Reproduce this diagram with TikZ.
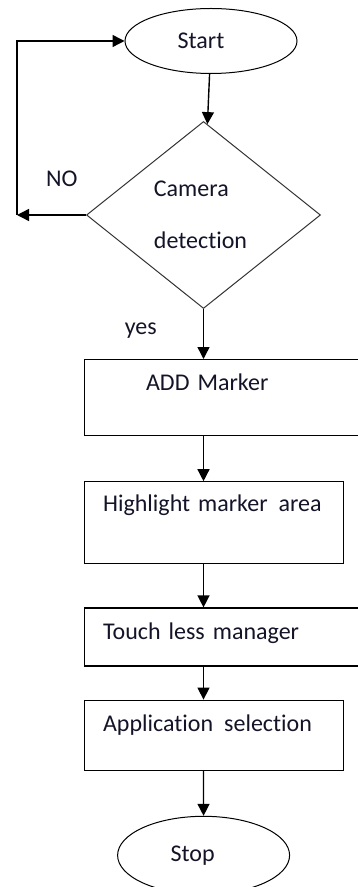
\documentclass[tikz,border=0pt]{standalone}
\usepackage{fontspec}
\setmainfont{Carlito}[Ligatures=CommonOff]
\usepackage{tikz}
\usetikzlibrary{arrows.meta, positioning, shapes.geometric}
\definecolor{outline}{HTML}{000000}
\definecolor{labeltext}{HTML}{141428}
\tikzset{
    termnode/.style={
        ellipse, draw=outline, line width=0.5pt,
        minimum width=86pt, minimum height=#1,
        inner sep=0pt, text=labeltext
    },
    termnode/.default=32.5pt,
    decision/.style={
        diamond, draw=outline!80, line width=0.5pt,
        minimum width=117pt, minimum height=93.5pt,
        align=left, inner sep=0pt, text=labeltext
    },
    procbox/.style={
        rectangle, draw=outline, line width=0.6pt,
        align=left, inner xsep=9.5pt,
        text height=8pt, text depth=#1, text=labeltext
    },
    procbox/.default=0pt,
    widebox/.style={minimum width=142pt, text width=123pt},
    narrowbox/.style={minimum width=129.5pt, text width=110.5pt},
    flowarrow/.style={
        -{Triangle[length=6pt, width=6pt]}, line width=0.7pt, draw=outline
    },
    flowlabel/.style={
        inner sep=0pt, text=labeltext
    },
}

\begin{document}
\begin{tikzpicture}[x=0.5pt, y=-0.5pt, font=\fontsize{12}{14.4}\selectfont]

    \useasboundingbox (0,0) rectangle (358,887);

    % Start and decision
    \node[termnode] (start) at (211,41) {Start\hspace*{10pt}};
    \node[decision, below=23.5pt of start, xshift=-3.75pt] (dec) {Camera\\[11.5pt]detection\hspace*{3pt}};
    \coordinate[left=34.5pt of dec.west] (nocorner);

    % Process boxes
    \node[procbox=15.3pt, widebox, minimum height=38pt, below=25pt of dec.south, anchor=north west, xshift=-60pt] (add) {\hspace*{21.5pt}ADD Marker};
    \node[procbox=19.3pt, narrowbox, minimum height=41pt, below=22.5pt of add.south west, anchor=north west] (hl) {Highlight marker\hspace{1.5pt} area};
    \node[procbox=5.6pt, widebox, minimum height=29pt, below=21.5pt of hl.south west, anchor=north west] (touch) {Touch less manager};
    \node[procbox=11.3pt, narrowbox, minimum height=35pt, below=16.5pt of touch.south west, anchor=north west] (app) {Application\hspace{1.5pt} selection};

    % Stop
    \node[termnode=39pt, below=22.5pt of app.south, xshift=-5pt] (stop) {Stop\hspace*{11pt}};

    % Arrows
    \draw[flowarrow] (start) -- (dec);
    \draw[flowarrow] (dec.west) -- node[flowlabel, pos=0.35, above=14pt] {NO} (nocorner);
    \draw[flowarrow] (nocorner) |- (start.west);
    \draw[flowarrow] (dec.south) -- node[flowlabel, pos=0.44, left=23pt] {yes} (dec.south |- add.north);
    \draw[flowarrow] (add.south -| dec.south) -- (hl.north -| dec.south);
    \draw[flowarrow] (hl.south -| dec.south) -- (touch.north -| dec.south);
    \draw[flowarrow] (touch.south -| dec.south) -- (app.north -| dec.south);
    \draw[flowarrow] (app.south -| dec.south) -- (stop);

\end{tikzpicture}
\end{document}
